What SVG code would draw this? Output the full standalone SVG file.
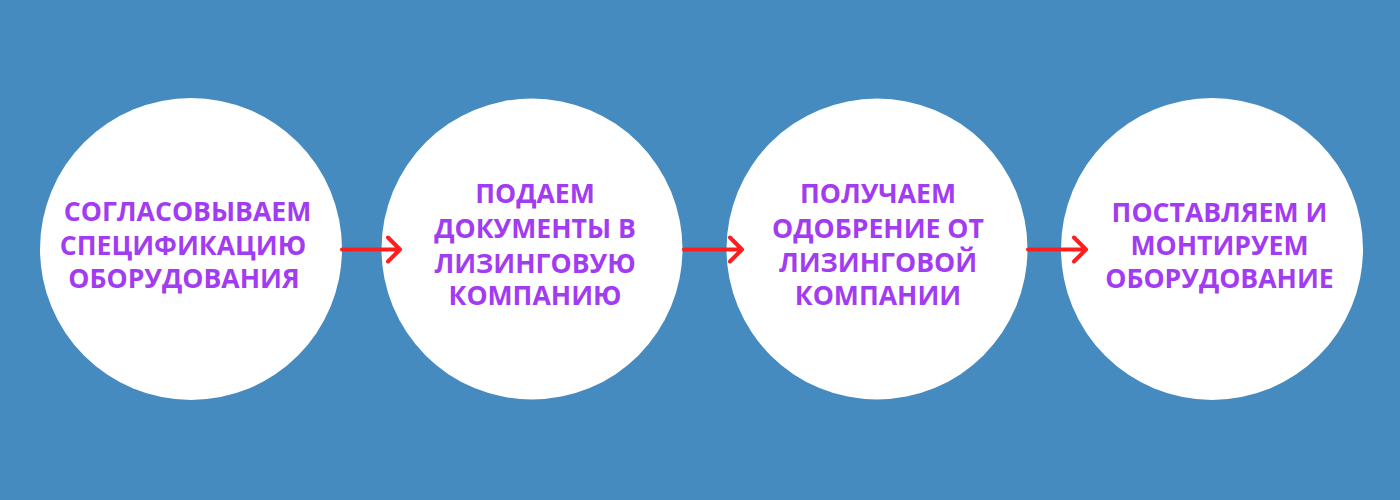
<svg xmlns="http://www.w3.org/2000/svg" width="1400" height="500" viewBox="0 0 1400 500">
<style>
.node circle{fill:#ffffff}
.node text{font-family:"Open Sans","Noto Sans","DejaVu Sans",sans-serif;font-weight:700;font-size:26.6px;fill:#A23CF3;text-anchor:middle}
.conn path{fill:none;stroke:#FF1E1E;stroke-width:4;stroke-linecap:round;stroke-linejoin:round}
</style>
<rect width="1400" height="500" fill="#468BC0"/>
<g id="node1" class="node">
<circle cx="191" cy="249" r="151"/>
<text x="187.5" y="221">СОГЛАСОВЫВАЕМ</text>
<text x="183" y="255">СПЕЦИФИКАЦИЮ</text>
<text x="184" y="288">ОБОРУДОВАНИЯ</text>
</g>
<g id="node2" class="node">
<circle cx="532" cy="249" r="150.5"/>
<text x="535" y="203">ПОДАЕМ</text>
<text x="535" y="238">ДОКУМЕНТЫ В</text>
<text x="535" y="272.5">ЛИЗИНГОВУЮ</text>
<text x="535" y="305">КОМПАНИЮ</text>
</g>
<g id="node3" class="node">
<circle cx="877" cy="249" r="150.5"/>
<text x="878" y="203">ПОЛУЧАЕМ</text>
<text x="878" y="238">ОДОБРЕНИЕ ОТ</text>
<text x="878" y="271.5">ЛИЗИНГОВОЙ</text>
<text x="878" y="305">КОМПАНИИ</text>
</g>
<g id="node4" class="node">
<circle cx="1212" cy="249" r="151"/>
<text x="1219.5" y="221.5">ПОСТАВЛЯЕМ И</text>
<text x="1219.5" y="255">МОНТИРУЕМ</text>
<text x="1219.5" y="288">ОБОРУДОВАНИЕ</text>
</g>
<g id="connectors" class="conn">
<path d="M342 249.5H400M388 237.5L400 249.5L388 261.5"/>
<path d="M684 249.5H742M730 237.5L742 249.5L730 261.5"/>
<path d="M1028 249.5H1086M1074 237.5L1086 249.5L1074 261.5"/>
</g>
</svg>
